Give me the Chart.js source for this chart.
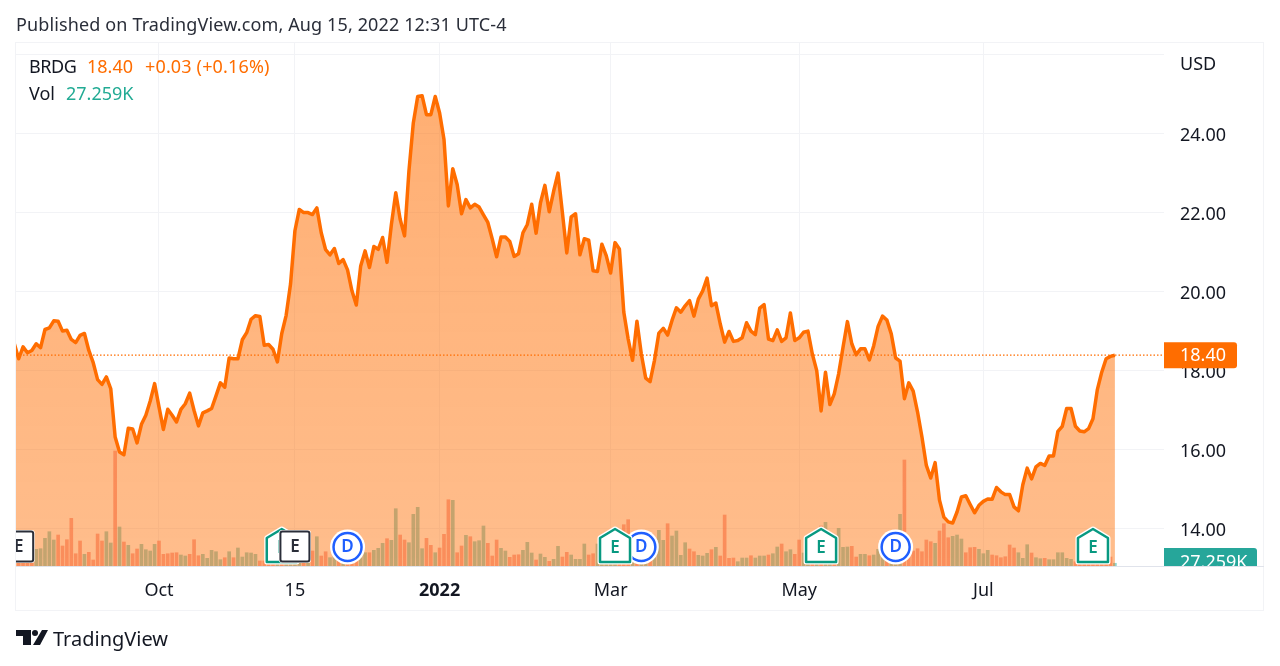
<!DOCTYPE html>
<html>
<head>
<meta charset="utf-8">
<title>BRDG</title>
<script src="https://cdn.jsdelivr.net/npm/chart.js@4"></script>
<style>
    html, body { margin: 0; padding: 0; background: #fff; width: 1280px; height: 666px; overflow: hidden; }
    #chartBox { position: absolute; left: 0; top: 0; width: 1280px; height: 666px; }
    .txt { position: absolute; white-space: nowrap; font-family: "Noto Sans", sans-serif; font-size: 18px; line-height: 24px; color: #131722; }
</style>
</head>
<body>
<div id="chartBox"><canvas id="priceChart" width="1280" height="666"></canvas></div>

<div class="txt" style="left:16px;top:12px;color:#2a2e39;letter-spacing:0.13px">Published on TradingView.com, Aug 15, 2022 12:31 UTC-4</div>
<div class="txt" style="left:29px;top:54px;letter-spacing:-0.4px">BRDG</div>
<div class="txt" style="left:87px;top:54px;color:#ff6d00">18.40</div>
<div class="txt" style="left:145px;top:54px;color:#ff6d00;letter-spacing:0.15px">+0.03 (+0.16%)</div>
<div class="txt" style="left:29px;top:81px">Vol</div>
<div class="txt" style="left:66px;top:81px;color:#22ab94">27.259K</div>
<div class="txt" style="left:1180px;top:51px">USD</div>
<div class="txt" style="left:53px;top:627px;font-size:20px">TradingView</div>
<svg style="position:absolute;left:16px;top:630px" width="32" height="16" viewBox="0 0 32 16">
    <path d="M0 0H15V15H7V6H0Z M26 0H32L24 15H17Z" fill="#131722"/>
    <circle cx="19" cy="3" r="3" fill="#131722"/>
</svg>

<script>
// closing prices, one per trading day, Aug 16 2021 .. Aug 15 2022
const prices = [
    18.69, 18.31, 18.61, 18.46, 18.52, 18.69, 18.59, 19.05, 19.09, 19.27,
    19.26, 19.01, 19.03, 18.80, 18.72, 18.90, 18.95, 18.52, 18.21, 17.78,
    17.66, 17.85, 17.55, 16.33, 15.95, 15.88, 16.55, 16.53, 16.18, 16.65,
    16.88, 17.24, 17.68, 17.09, 16.52, 17.03, 16.88, 16.71, 17.03, 17.17,
    17.44, 17.00, 16.61, 16.94, 16.99, 17.05, 17.37, 17.70, 17.59, 18.33,
    18.31, 18.31, 18.79, 18.97, 19.31, 19.40, 19.38, 18.65, 18.67, 18.55,
    18.23, 18.95, 19.41, 20.20, 21.55, 22.09, 22.01, 22.01, 21.96, 22.13,
    21.50, 21.07, 20.94, 21.10, 20.72, 20.82, 20.56, 20.03, 19.67, 20.66,
    21.04, 20.62, 21.15, 21.08, 21.38, 20.75, 21.71, 22.51, 21.84, 21.42,
    23.06, 24.28, 24.95, 24.97, 24.49, 24.49, 24.95, 24.53, 23.86, 22.18,
    23.12, 22.72, 21.98, 22.34, 22.13, 22.22, 22.15, 21.95, 21.76, 21.34,
    20.89, 21.39, 21.39, 21.28, 20.90, 20.97, 21.50, 21.71, 22.22, 21.49,
    22.26, 22.70, 22.03, 22.55, 23.01, 22.01, 20.99, 21.90, 21.98, 20.94,
    21.35, 21.31, 20.54, 20.52, 21.21, 20.92, 20.48, 21.25, 21.09, 19.49,
    18.81, 18.27, 19.26, 18.43, 17.82, 17.73, 18.27, 18.96, 19.08, 18.91,
    19.28, 19.60, 19.49, 19.65, 19.78, 19.39, 19.82, 20.03, 20.35, 19.65,
    19.72, 19.19, 18.73, 19.00, 18.75, 18.77, 18.84, 19.22, 19.01, 18.92,
    19.59, 19.68, 18.81, 18.77, 19.04, 18.75, 18.84, 19.47, 18.77, 18.84,
    18.98, 19.01, 18.43, 18.01, 16.99, 17.97, 17.15, 17.42, 17.93, 18.60,
    19.25, 18.69, 18.41, 18.56, 18.56, 18.28, 18.64, 19.13, 19.39, 19.29,
    18.94, 18.33, 18.25, 17.30, 17.70, 17.49, 16.96, 16.33, 15.61, 15.29,
    15.68, 14.73, 14.30, 14.18, 14.15, 14.43, 14.81, 14.84, 14.62, 14.41,
    14.60, 14.70, 14.76, 14.75, 15.05, 14.94, 14.87, 14.87, 14.56, 14.46,
    15.12, 15.54, 15.27, 15.57, 15.66, 15.61, 15.85, 15.85, 16.47, 16.60,
    17.05, 17.05, 16.60, 16.48, 16.46, 16.54, 16.79, 17.53, 17.97, 18.31,
    18.37, 18.40
];

// volume in thousands
const volumes = [
    90, 150, 120, 140, 180, 167, 173, 277, 343, 260,
    310, 200, 263, 477, 123, 250, 117, 137, 60, 320,
    250, 343, 230, 1150, 390, 240, 207, 123, 170, 217,
    163, 150, 217, 250, 117, 123, 130, 133, 110, 100,
    117, 263, 103, 117, 77, 157, 143, 63, 83, 143,
    83, 180, 90, 133, 130, 117, 50, 50, 50, 60,
    70, 90, 110, 130, 140, 120, 100, 130, 150, 293,
    100, 143, 83, 100, 90, 120, 110, 100, 120, 150,
    133, 133, 157, 177, 227, 273, 257, 573, 310, 260,
    233, 517, 587, 173, 277, 207, 133, 180, 317, 663,
    657, 133, 200, 307, 293, 243, 253, 400, 227, 100,
    260, 177, 150, 87, 110, 113, 157, 237, 130, 60,
    120, 87, 47, 67, 197, 90, 137, 110, 67, 67,
    220, 110, 123, 220, 117, 200, 180, 190, 210, 413,
    463, 190, 170, 200, 180, 210, 167, 357, 257, 423,
    300, 350, 107, 233, 170, 143, 107, 100, 127, 163,
    187, 100, 510, 77, 80, 43, 80, 80, 103, 80,
    100, 100, 110, 123, 190, 220, 143, 163, 117, 260,
    130, 140, 150, 170, 400, 437, 200, 210, 377, 187,
    190, 197, 90, 117, 117, 103, 110, 167, 150, 130,
    150, 170, 517, 1060, 140, 150, 173, 143, 260, 243,
    227, 350, 423, 283, 297, 310, 270, 133, 183, 187,
    167, 123, 157, 110, 103, 83, 93, 210, 180, 133,
    77, 213, 130, 83, 73, 77, 63, 63, 133, 133,
    77, 67, 43, 40, 38, 35, 33, 30, 30, 35,
    90, 27.259
];

// 1 = up day (teal bar), 0 = down day (red bar)
const volumeUp = [
    0, 0, 0, 0, 0, 1, 1, 1, 1, 1,
    0, 0, 0, 0, 0, 0, 1, 0, 0, 0,
    0, 1, 1, 0, 1, 0, 1, 0, 0, 1,
    1, 1, 1, 0, 0, 0, 0, 0, 1, 1,
    0, 0, 0, 1, 1, 1, 1, 1, 0, 1,
    0, 1, 1, 1, 1, 1, 0, 0, 0, 0,
    1, 0, 1, 1, 1, 1, 0, 1, 0, 1,
    0, 0, 1, 1, 0, 1, 0, 0, 0, 1,
    1, 0, 1, 1, 1, 0, 1, 1, 0, 0,
    1, 1, 1, 1, 0, 0, 1, 0, 0, 0,
    1, 0, 0, 1, 0, 1, 1, 1, 0, 0,
    0, 1, 1, 0, 0, 0, 1, 1, 1, 0,
    1, 1, 0, 1, 1, 0, 0, 1, 1, 1,
    1, 0, 0, 1, 1, 1, 1, 1, 0, 0,
    0, 1, 0, 1, 1, 0, 1, 1, 1, 0,
    1, 1, 1, 1, 0, 0, 1, 1, 1, 0,
    1, 0, 0, 0, 0, 1, 1, 1, 0, 1,
    1, 1, 0, 1, 1, 0, 1, 1, 0, 0,
    1, 1, 0, 1, 0, 1, 1, 0, 1, 1,
    1, 0, 0, 1, 1, 0, 1, 1, 1, 0,
    1, 1, 1, 0, 0, 0, 0, 0, 0, 0,
    1, 0, 0, 0, 1, 1, 1, 0, 0, 0,
    1, 1, 1, 0, 0, 0, 0, 0, 0, 1,
    1, 1, 0, 1, 1, 0, 1, 1, 1, 1,
    1, 1, 0, 0, 0, 0, 0, 0, 0, 0,
    0, 1
];

const xTickIndex = [33, 64, 97, 136, 179, 221];
const xTickLabels = ['Oct', '15', '2022', 'Mar', 'May', 'Jul'];
const lastPrice = 18.40;

// event flags on the time axis
const pastEarnings = [1, 64];
const nextEarnings = [61, 137, 184, 246];
const dividends = [76, 143, 201];

const orange = '#ff6d00';
const teal = '#26a69a';
const gridColor = '#f2f3f6';
const labelFont = '"Noto Sans", sans-serif';

const xMin = 0.39, xMax = 262.2;

const pricePoints = prices.map((p, i) => ({ x: i, y: p }));
const volumePoints = volumes.map((v, i) => ({ x: i, y: v }));

function areaGradient(context) {
    const { ctx, chartArea } = context.chart;
    if (!chartArea) return 'rgba(255,109,0,0.5)';
    const g = ctx.createLinearGradient(0, chartArea.top, 0, chartArea.bottom);
    g.addColorStop(0, 'rgba(255,109,0,0.56)');
    g.addColorStop(1, 'rgba(255,109,0,0.45)');
    return g;
}

function roundedBox(ctx, x, y, w, h, r, fill, stroke, lw) {
    ctx.beginPath();
    ctx.roundRect(x, y, w, h, r);
    ctx.fillStyle = fill;
    ctx.fill();
    if (stroke) {
        ctx.lineWidth = lw;
        ctx.strokeStyle = stroke;
        ctx.stroke();
    }
}

function letter(ctx, s, x, y, color) {
    ctx.fillStyle = color;
    ctx.font = '600 17px ' + labelFont;
    ctx.textAlign = 'center';
    ctx.textBaseline = 'middle';
    ctx.fillText(s, x, y + 1);
}

// pane frame, flags and the two price-scale labels
const chrome = {
    id: 'chrome',
    beforeDraw(chart) {
        const ctx = chart.ctx;
        ctx.save();
        ctx.strokeStyle = gridColor;
        ctx.lineWidth = 1;
        ctx.strokeRect(15.5, 42.5, 1248, 568);
        ctx.restore();
    },
    afterDraw(chart) {
        const ctx = chart.ctx, a = chart.chartArea;
        const xs = chart.scales.x, ys = chart.scales.y;
        const my = 547;

        ctx.save();
        ctx.strokeStyle = '#e0e3eb';
        ctx.lineWidth = 1;
        ctx.beginPath();
        ctx.moveTo(16, 566.5);
        ctx.lineTo(1264, 566.5);
        ctx.stroke();

        ctx.beginPath();
        ctx.rect(a.left, a.top, a.right - a.left, a.bottom - a.top);
        ctx.clip();

        dividends.forEach(i => {
            const x = xs.getPixelForValue(i);
            ctx.beginPath();
            ctx.arc(x, my, 17.5, 0, Math.PI * 2);
            ctx.fillStyle = '#fff';
            ctx.fill();
            ctx.beginPath();
            ctx.arc(x, my, 14, 0, Math.PI * 2);
            ctx.lineWidth = 2.5;
            ctx.strokeStyle = '#1f5fff';
            ctx.stroke();
            letter(ctx, 'D', x, my - 1, '#1f5fff');
        });

        nextEarnings.forEach(i => {
            const x = xs.getPixelForValue(i);
            ctx.beginPath();
            ctx.moveTo(x, my - 18);
            ctx.lineTo(x + 15, my - 9);
            ctx.lineTo(x + 15, my + 15);
            ctx.lineTo(x - 15, my + 15);
            ctx.lineTo(x - 15, my - 9);
            ctx.closePath();
            ctx.lineJoin = 'round';
            ctx.lineWidth = 5;
            ctx.strokeStyle = '#fff';
            ctx.stroke();
            ctx.fillStyle = '#fff';
            ctx.fill();
            ctx.lineWidth = 2.5;
            ctx.strokeStyle = '#089981';
            ctx.stroke();
            letter(ctx, 'E', x, my, '#089981');
        });

        pastEarnings.forEach(i => {
            const x = xs.getPixelForValue(i);
            roundedBox(ctx, x - 16, my - 17, 32, 33, 3, '#fff');
            roundedBox(ctx, x - 14.5, my - 15.5, 29, 30, 2, '#fff', '#2a2e39', 2);
            letter(ctx, 'E', x, my - 1, '#2a2e39');
        });
        ctx.restore();

        // price label
        const py = ys.getPixelForValue(lastPrice);
        ctx.save();
        roundedBox(ctx, 1164, py - 13, 73, 26, [0, 3, 3, 0], orange);
        ctx.fillStyle = '#fff';
        ctx.font = '18px ' + labelFont;
        ctx.textAlign = 'left';
        ctx.textBaseline = 'middle';
        ctx.fillText(lastPrice.toFixed(2), 1180, py + 1);

        // volume label, cut off by the pane bottom
        ctx.beginPath();
        ctx.rect(1164, 548, 93, 18);
        ctx.clip();
        roundedBox(ctx, 1164, 548, 93, 21, [0, 3, 0, 0], teal);
        ctx.fillStyle = '#fff';
        ctx.fillText('27.259K', 1180, 563);
        ctx.restore();
    }
};

new Chart(document.getElementById('priceChart'), {
    data: {
        datasets: [
            {
                type: 'line',
                data: [{ x: xMin, y: lastPrice }, { x: xMax, y: lastPrice }],
                borderColor: orange,
                borderWidth: 1.3,
                borderDash: [1.5, 2],
                pointRadius: 0,
                order: 0
            },
            {
                type: 'line',
                data: pricePoints,
                borderColor: orange,
                borderWidth: 3.5,
                borderJoinStyle: 'round',
                backgroundColor: areaGradient,
                fill: 'start',
                pointRadius: 0,
                tension: 0,
                order: 1
            },
            {
                type: 'bar',
                data: volumePoints,
                yAxisID: 'yVol',
                barThickness: 3,
                backgroundColor: volumeUp.map(u => u ? 'rgba(38,166,154,0.5)' : 'rgba(239,83,80,0.5)'),
                order: 2
            }
        ]
    },
    options: {
        responsive: false,
        animation: false,
        devicePixelRatio: 1,
        layout: { padding: { left: 16, top: 42, right: 16, bottom: 55 } },
        plugins: { legend: { display: false }, tooltip: { enabled: false } },
        scales: {
            x: {
                type: 'linear',
                offset: false,
                min: xMin,
                max: xMax,
                afterFit(scale) { scale.height = 45; },
                afterBuildTicks(scale) { scale.ticks = xTickIndex.map(v => ({ value: v })); },
                grid: { color: gridColor, drawTicks: false, offset: false },
                border: { display: false },
                ticks: {
                    autoSkip: false,
                    maxRotation: 0,
                    padding: 14,
                    color: '#131722',
                    font: (c) => ({
                        family: labelFont,
                        size: 18,
                        weight: c.tick && c.tick.value === 97 ? '700' : '400'
                    }),
                    callback: (v) => xTickLabels[xTickIndex.indexOf(v)]
                }
            },
            y: {
                position: 'right',
                min: 13.063,
                max: 26.329,
                afterFit(scale) { scale.width = 100; },
                grid: { color: gridColor, drawTicks: false },
                border: { display: false },
                ticks: {
                    stepSize: 2,
                    includeBounds: false,
                    padding: 16,
                    labelOffset: 2,
                    color: '#131722',
                    font: { family: labelFont, size: 18 },
                    callback: (v) => v === 26 ? '' : v.toFixed(2)
                }
            },
            yVol: { display: false, min: 0, max: 5240 }
        }
    },
    plugins: [chrome]
});
</script>
</body>
</html>
